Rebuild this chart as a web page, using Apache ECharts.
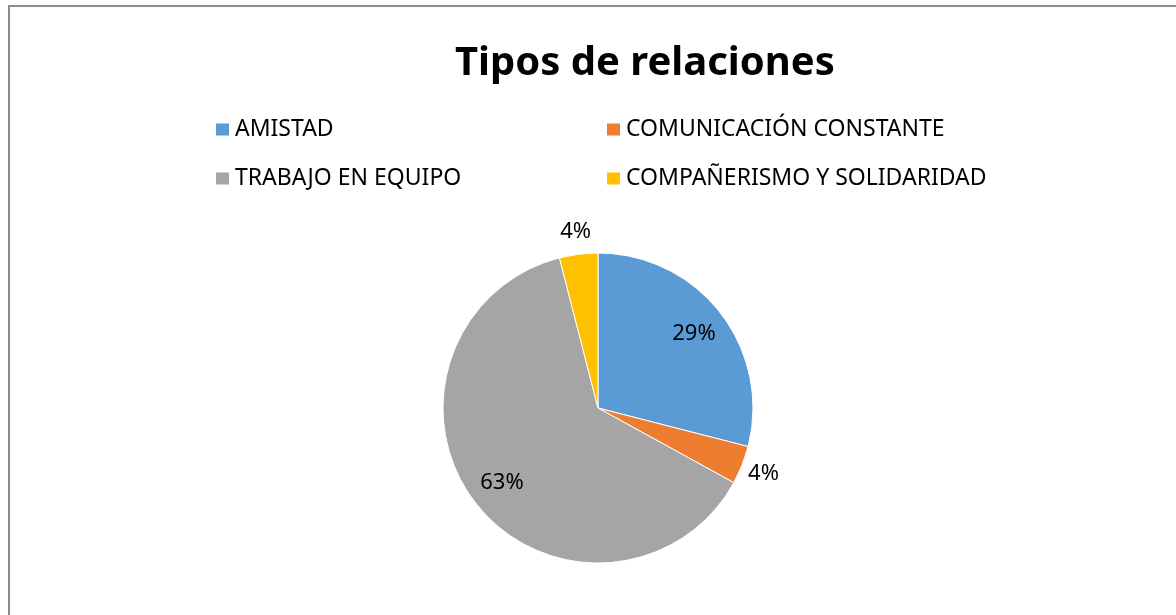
<!DOCTYPE html>
<html>
<head>
<meta charset="utf-8">
<title>Tipos de relaciones</title>
<script src="https://cdn.jsdelivr.net/npm/echarts@6/dist/echarts.min.js"></script>
<style>
  html, body { margin: 0; padding: 0; background: #ffffff; }
  #chart { width: 1176px; height: 615px; }
</style>
</head>
<body>
<div id="chart"></div>
<script>
// Relationship types and their share of responses (%)
const categories = ['AMISTAD', 'COMUNICACIÓN CONSTANTE', 'TRABAJO EN EQUIPO', 'COMPAÑERISMO Y SOLIDARIDAD'];
const shares = [29, 4, 63, 4];
const colors = ['#5B9BD5', '#ED7D31', '#A5A5A5', '#FFC000'];
// Which labels sit inside the slice and which just outside the rim
const insideLabel = [true, false, true, false];

const FONT = '"Noto Sans", "DejaVu Sans", sans-serif';
const CX = 598, CY = 408, R = 155;

const data = categories.map((name, i) => ({ name: name, value: shares[i] }));

function labelRing(radius, pick) {
  return {
    type: 'pie',
    center: [CX, CY],
    radius: radius,
    startAngle: 90,
    clockwise: true,
    silent: true,
    animation: false,
    itemStyle: { color: 'transparent', borderWidth: 0 },
    emphasis: { disabled: true },
    labelLine: { show: false },
    data: categories.map((name, i) => ({
      name: name,
      value: shares[i],
      label: { show: pick(i) }
    })),
    label: {
      position: 'inside',
      formatter: '{c}%',
      color: '#000000',
      fontFamily: FONT,
      fontSize: 22
    }
  };
}

const chart = echarts.init(document.getElementById('chart'), null, { renderer: 'canvas' });

const legendText = { color: '#000000', fontFamily: FONT, fontSize: 23, lineHeight: 22 };

chart.setOption({
  backgroundColor: '#ffffff',
  color: colors,
  animation: false,
  title: {
    text: 'Tipos de relaciones',
    left: 450,
    top: 39,
    textStyle: { color: '#000000', fontFamily: FONT, fontSize: 40, fontWeight: 'bold' }
  },
  legend: [
    {
      data: [categories[0], categories[2]],
      orient: 'vertical',
      left: 209,
      top: 113,
      icon: 'rect',
      itemWidth: 15,
      itemHeight: 14,
      itemGap: 26,
      selectedMode: false,
      textStyle: legendText
    },
    {
      data: [categories[1], categories[3]],
      orient: 'vertical',
      left: 600,
      top: 113,
      icon: 'rect',
      itemWidth: 15,
      itemHeight: 14,
      itemGap: 26,
      selectedMode: false,
      textStyle: legendText
    }
  ],
  graphic: [
    {
      type: 'rect',
      shape: { x: 9, y: 6, width: 1400, height: 800 },
      style: { fill: 'none', stroke: '#8c8c8c', lineWidth: 2 },
      silent: true,
      z: 100
    }
  ],
  series: [
    {
      type: 'pie',
      center: [CX, CY],
      radius: [0, R],
      startAngle: 90,
      clockwise: true,
      animation: false,
      label: { show: false },
      labelLine: { show: false },
      itemStyle: { borderColor: '#ffffff', borderWidth: 1 },
      emphasis: { scale: false },
      data: data
    },
    labelRing([82, R], i => insideLabel[i]),
    labelRing([R, 195], i => !insideLabel[i])
  ]
});
</script>
</body>
</html>
